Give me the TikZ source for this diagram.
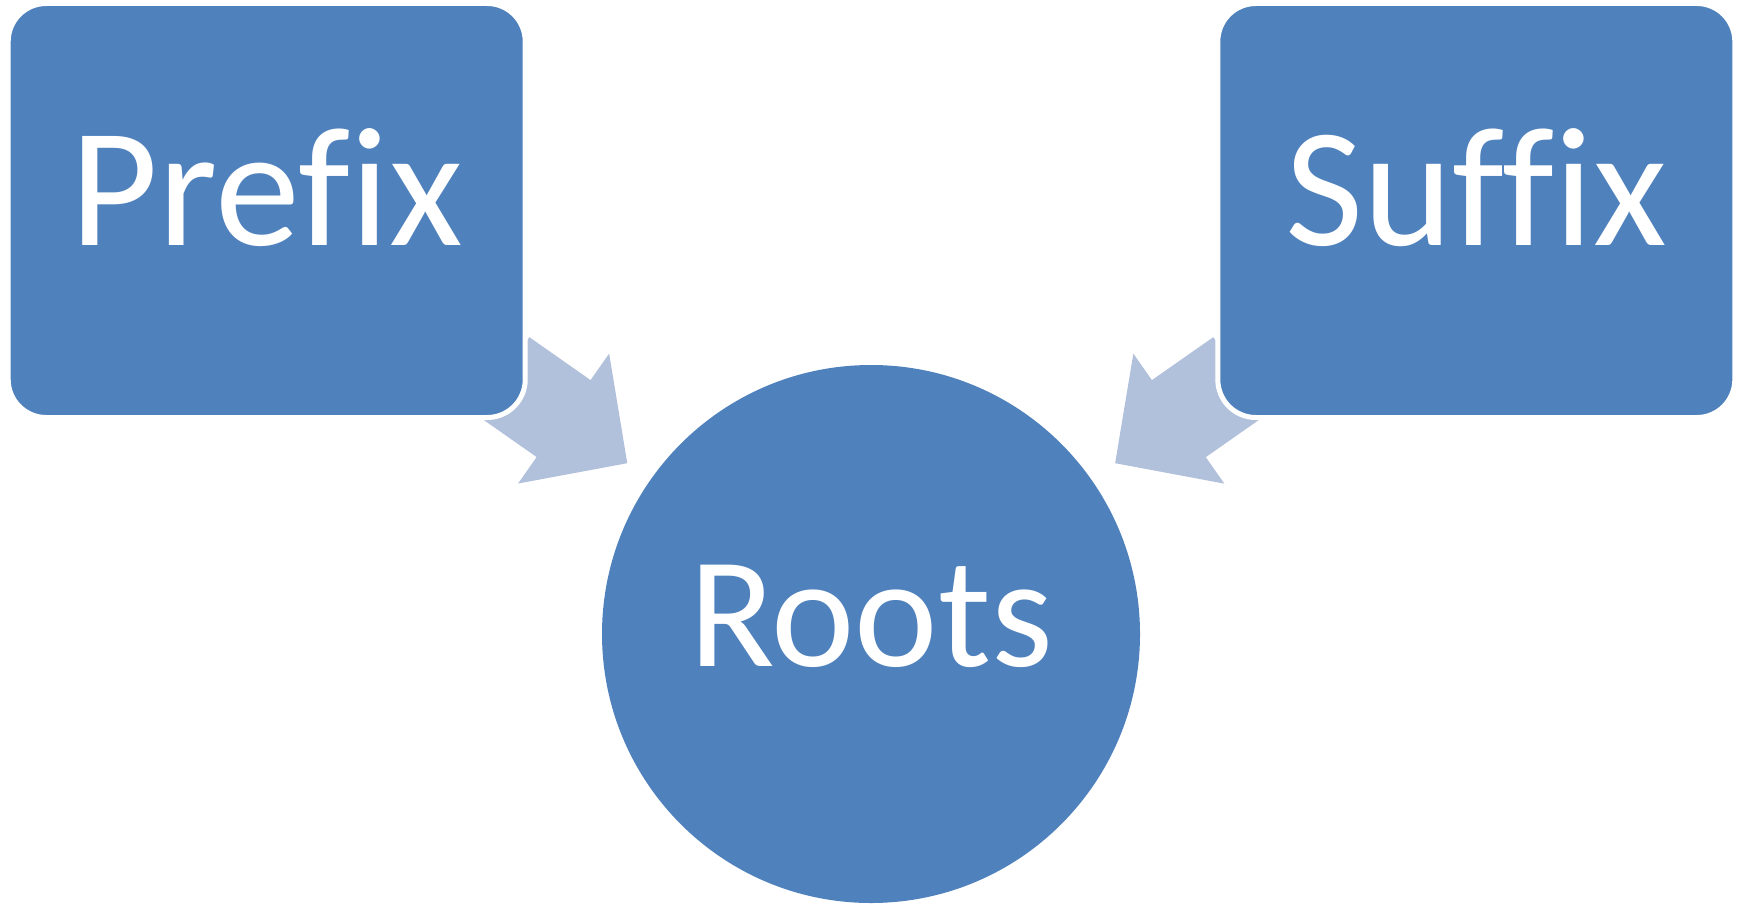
\documentclass[tikz,border=0pt]{standalone}
\usepackage{fontspec}
\setmainfont{Carlito}[Ligatures=CommonOff]
\usetikzlibrary{arrows.meta,calc,backgrounds}
\definecolor{boxblue}{HTML}{4F81BD}
\definecolor{feedblue}{HTML}{B2C1DB}
\tikzset{
  affix/.style={rectangle, rounded corners=19pt, fill=boxblue, draw=white, line width=2.5pt,
    text=white, inner sep=0pt, minimum width=258.5pt, text height=120.75pt, text depth=86.25pt,
    font=\fontsize{85}{90}\selectfont},
  rootnode/.style={circle, fill=boxblue, text=white, inner sep=0pt, minimum size=269pt,
    text height=40pt, text depth=8pt, font=\fontsize{79}{84}\selectfont},
  feed/.style={draw=feedblue, line width=47pt, -{Triangle[width=77pt,length=39pt]}}
}
\begin{document}
\begin{tikzpicture}[x=0.5pt, y=-0.5pt]
            \useasboundingbox (0,0) rectangle (1743,904);
            \node[affix] (prefix) at (266.7,210.5) {Prefix};
            \node[affix] (suffix) at (1476.3,210.5) {Suffix};
            \node[rootnode] (roots) at (871,634) {Roots};
            \begin{scope}[on background layer]
                \draw[feed] ($(prefix.center)!0.39!(roots.center)$) -- ($(prefix.center)!0.597!(roots.center)$);
                \draw[feed] ($(suffix.center)!0.39!(roots.center)$) -- ($(suffix.center)!0.597!(roots.center)$);
            \end{scope}
\end{tikzpicture}
\end{document}
